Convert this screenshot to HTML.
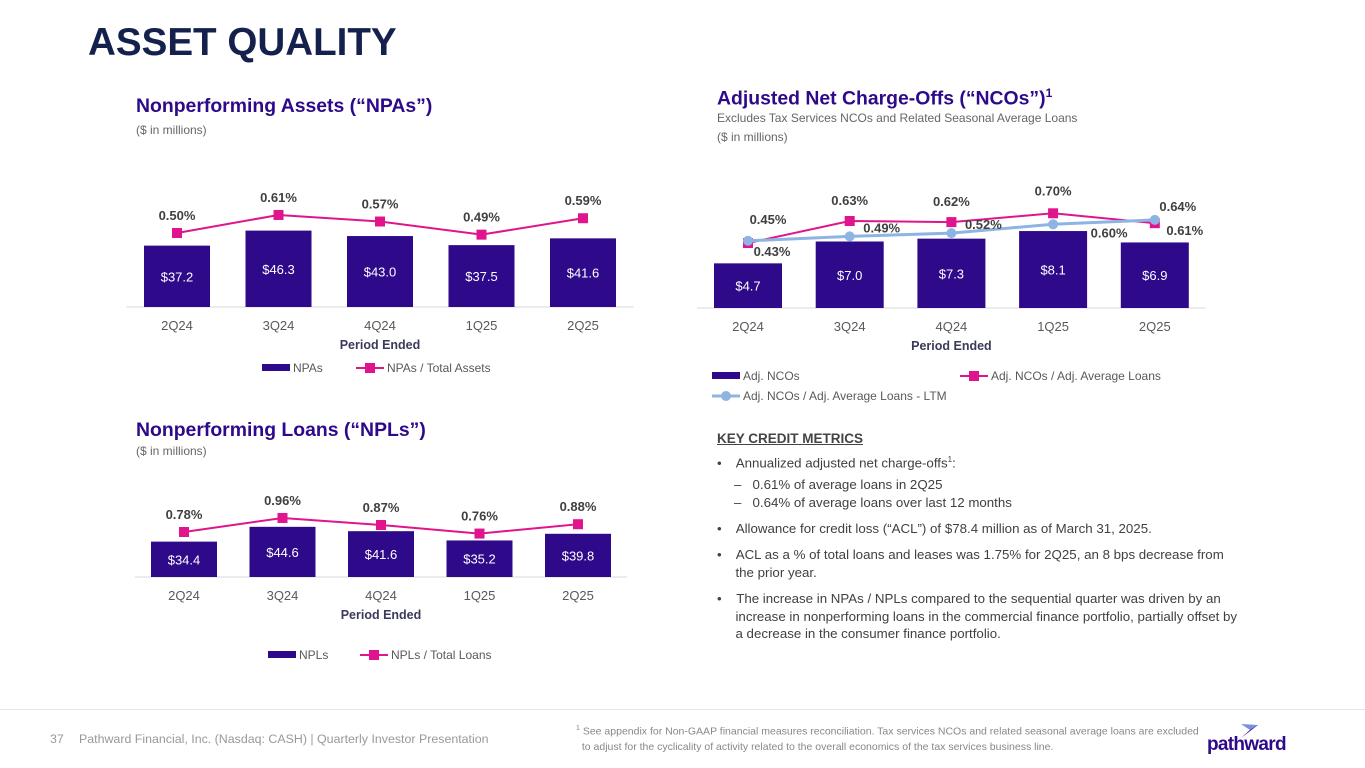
<!DOCTYPE html>
<html><head><meta charset="utf-8">
<style>
body{margin:0;width:1365px;height:768px;background:#fff;font-family:"Liberation Sans",sans-serif;position:relative;overflow:hidden}
.a{position:absolute;white-space:nowrap}
.h{color:#2e0a8a;font-weight:bold;font-size:19.4px}
.s{color:#666;font-size:12px}
.t{color:#404040;font-size:13.3px}
svg{position:absolute;left:0;top:0}
</style></head><body>
<div class="a" style="left:88px;top:21px;font-size:38.6px;font-weight:bold;color:#14214d">ASSET QUALITY</div>

<div class="a h" style="left:136px;top:95px">Nonperforming Assets (“NPAs”)</div>
<div class="a s" style="left:136px;top:123px">($ in millions)</div>

<div class="a h" style="left:717px;top:86px">Adjusted Net Charge-Offs (“NCOs”)<sup style="font-size:12px">1</sup></div>
<div class="a s" style="left:717px;top:111px">Excludes Tax Services NCOs and Related Seasonal Average Loans</div>
<div class="a s" style="left:717px;top:130px">($ in millions)</div>

<div class="a h" style="left:136px;top:419px">Nonperforming Loans (“NPLs”)</div>
<div class="a s" style="left:136px;top:444px">($ in millions)</div>

<div class="a" style="left:717px;top:431px;font-size:13.5px;font-weight:bold;color:#444;text-decoration:underline">KEY CREDIT METRICS</div>
<div class="a t" style="left:717px;top:455px">•&nbsp;&nbsp;&nbsp; Annualized adjusted net charge-offs<sup style="font-size:8px">1</sup>:</div>
<div class="a t" style="left:734px;top:477px">–&nbsp;&nbsp; 0.61% of average loans in 2Q25</div>
<div class="a t" style="left:734px;top:495px">–&nbsp;&nbsp; 0.64% of average loans over last 12 months</div>
<div class="a t" style="left:717px;top:521px">•&nbsp;&nbsp;&nbsp; Allowance for credit loss (“ACL”) of $78.4 million as of March 31, 2025.</div>
<div class="a t" style="left:717px;top:546px;line-height:18px">•&nbsp;&nbsp;&nbsp; ACL as a % of total loans and leases was 1.75% for 2Q25, an 8 bps decrease from<br>&nbsp;&nbsp;&nbsp;&nbsp;&nbsp;the prior year.</div>
<div class="a t" style="left:717px;top:590px;line-height:17.5px">•&nbsp;&nbsp;&nbsp; The increase in NPAs / NPLs compared to the sequential quarter was driven by an<br>&nbsp;&nbsp;&nbsp;&nbsp;&nbsp;increase in nonperforming loans in the commercial finance portfolio, partially offset by<br>&nbsp;&nbsp;&nbsp;&nbsp;&nbsp;a decrease in the consumer finance portfolio.</div>

<div class="a" style="left:0;top:709px;width:1365px;height:1px;background:#e6e6e6"></div>
<div class="a" style="left:50px;top:732px;font-size:12.4px;color:#999">37</div>
<div class="a" style="left:79px;top:732px;font-size:12.4px;color:#999">Pathward Financial, Inc. (Nasdaq: CASH) | Quarterly Investor Presentation</div>
<div class="a" style="left:576px;top:721px;font-size:10.5px;color:#888;line-height:15px"><sup style="font-size:7px">1</sup> See appendix for Non-GAAP financial measures reconciliation. Tax services NCOs and related seasonal average loans are excluded<br>&nbsp;&nbsp;to adjust for the cyclicality of activity related to the overall economics of the tax services business line.</div>
<svg width="1365" height="768"><polygon points="1243,725 1258,725 1241,738 1251,729" fill="#2e0a8a"/><polygon points="1241,724 1258,725 1250,730" fill="#7b8fe0"/></svg>
<div class="a" style="left:1207px;top:734px;font-size:19px;font-weight:bold;color:#2e0a8a;letter-spacing:-0.7px">pathward</div>

<svg id="chart" width="1365" height="768"></svg>

<script>
const categories = ["2Q24","3Q24","4Q24","1Q25","2Q25"];
const npaValues = [37.2,46.3,43.0,37.5,41.6];
const npaPct = [0.50,0.61,0.57,0.49,0.59];
const nplValues = [34.4,44.6,41.6,35.2,39.8];
const nplPct = [0.78,0.96,0.87,0.76,0.88];
const ncoValues = [4.7,7.0,7.3,8.1,6.9];
const ncoPct = [0.43,0.63,0.62,0.70,0.61];
const ncoLtm = [0.45,0.49,0.52,0.60,0.64];

const NS="http://www.w3.org/2000/svg";
const svg=document.getElementById('chart');
const BAR="#2e0a8a",PINK="#e0148c",BLUE="#8db4e2";
function mk(tag,attrs,parent){const e=document.createElementNS(NS,tag);for(const k in attrs)e.setAttribute(k,attrs[k]);(parent||svg).appendChild(e);return e;}
function txt(x,y,s,opt){const e=mk('text',Object.assign({x:x,y:y,'font-family':'Liberation Sans, sans-serif','font-size':12,'text-anchor':'middle',fill:'#595959'},opt||{}));e.textContent=s;return e;}

function chart(cfg){
  const g=mk('g',{});
  
  
  const xs=i=>cfg.x0+i*cfg.step;
  const yb=v=>cfg.base-(v-cfg.bmin)*cfg.bs;
  const yl=v=>cfg.lref-(v-cfg.lv)*cfg.ls;
  mk('line',{x1:cfg.x0-cfg.step/2,x2:cfg.x0+4.5*cfg.step,y1:cfg.base,y2:cfg.base,stroke:'#d9d9d9'},g);
  cfg.bars.forEach((v,i)=>{
    const r=mk('rect',{x:xs(i)-cfg.bw/2,y:yb(v),width:cfg.bw,height:cfg.base-yb(v),fill:BAR},g);
    
    
    const t=txt(xs(i),(yb(v)+cfg.base)/2+5,'$'+v.toFixed(1),{fill:'#fff','font-size':13});
    
    
    const c=txt(xs(i),cfg.base+23,categories[i],{'font-size':13});
    
    
  });
  const at=txt(cfg.x0+2*cfg.step,cfg.base+42,'Period Ended',{'font-weight':'bold','font-size':12.5,fill:'#3a3a5a'});
  
  
  cfg.lines.forEach(L=>{
    const pts=L.vals.map((v,i)=>xs(i)+','+yl(v)).join(' ');
    const pl=mk('polyline',{points:pts,fill:'none',stroke:L.color,'stroke-width':L.w},g);
    
    
    L.vals.forEach((v,i)=>{
      let m;
      if(L.marker==='sq') m=mk('rect',{x:xs(i)-5,y:yl(v)-5,width:10,height:10,fill:L.color},g);
      else m=mk('circle',{cx:xs(i),cy:yl(v),r:5,fill:L.color},g);
      
      
      const off=L.off?L.off[i]:[0,-13];
      const t=txt(xs(i)+off[0],yl(v)+off[1],v.toFixed(2)+'%',{'font-weight':'bold','font-size':13,fill:'#404040'});
      
      
    });
  });
}

chart({name:'npa-chart',x0:177,step:101.5,bw:66,base:307,bmin:0,bs:1.65,lref:233,lv:0.50,ls:164,bars:npaValues,
  lines:[{name:'npa-ratio-line',vals:npaPct,color:PINK,w:2,marker:'sq'}]});
chart({name:'npl-chart',x0:184,step:98.5,bw:66,base:577,bmin:10,bs:1.45,lref:532,lv:0.78,ls:78,bars:nplValues,
  lines:[{name:'npl-ratio-line',vals:nplPct,color:PINK,w:2,marker:'sq'}]});
chart({name:'nco-chart',x0:748,step:101.7,bw:68,base:308,bmin:0,bs:9.5,lref:243,lv:0.43,ls:110,bars:ncoValues,
  lines:[{name:'nco-ratio-line',vals:ncoPct,color:PINK,w:2,marker:'sq',off:[[24,13],[0,-16],[0,-16],[0,-18],[30,12]]},
         {name:'nco-ltm-line',vals:ncoLtm,color:BLUE,w:3,marker:'ci',off:[[20,-17],[32,-4],[32,-4],[56,13],[23,-9]]}]});

function legend(x,y,label,type,name){
  const g=mk('g',{});
  
  
  if(type==='bar') mk('rect',{x:x,y:y-5,width:28,height:7,fill:BAR},g);
  else{mk('line',{x1:x,x2:x+28,y1:y-1,y2:y-1,stroke:type==='sq'?PINK:BLUE,'stroke-width':type==='sq'?2:3},g);
    if(type==='sq') mk('rect',{x:x+9,y:y-6,width:10,height:10,fill:PINK},g); else mk('circle',{cx:x+14,cy:y-1,r:5,fill:BLUE},g);}
  txt(x+31,y+3,label,{'text-anchor':'start','font-size':12});
}
legend(262,369,'NPAs','bar','legend-npas');
legend(356,369,'NPAs / Total Assets','sq','legend-npa-ratio');
legend(268,656,'NPLs','bar','legend-npls');
legend(360,656,'NPLs / Total Loans','sq','legend-npl-ratio');
legend(712,377,'Adj. NCOs','bar','legend-nco');
legend(960,377,'Adj. NCOs / Adj. Average Loans','sq','legend-nco-ratio');
legend(712,397,'Adj. NCOs / Adj. Average Loans - LTM','ci','legend-nco-ltm');
</script>
</body></html>
